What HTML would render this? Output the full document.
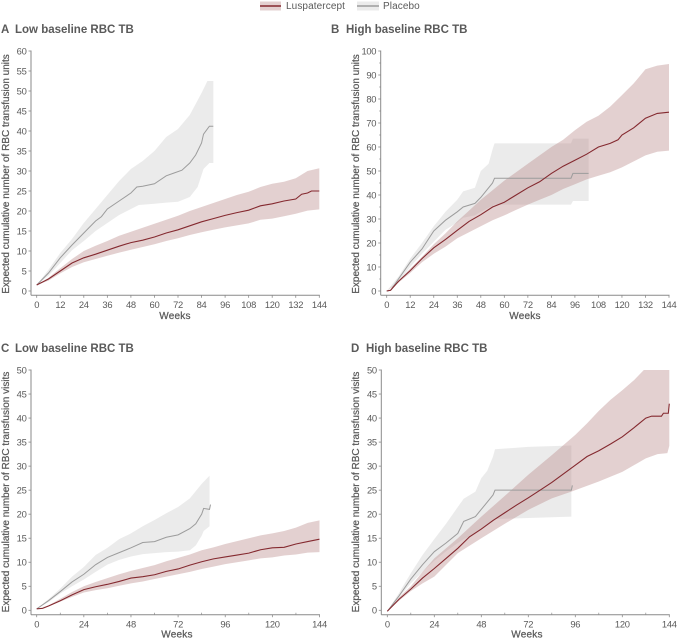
<!DOCTYPE html>
<html lang="en">
<head>
<meta charset="utf-8">
<title>Expected cumulative RBC transfusions</title>
<style>
html,body{margin:0;padding:0;background:#fff;width:677px;height:641px;overflow:hidden}
svg{display:block;font-family:"Liberation Sans",sans-serif}
</style>
</head>
<body>
<svg id="chart" width="677" height="641" viewBox="0 0 677 641" xmlns="http://www.w3.org/2000/svg"></svg>
<script>
// Panel A
const aLuspWeeks = [0,6,12,18,24,30,36,42,48,54,60,66,72,78,84,90,96,102,108,114,120,126,132,135,138,140,144];
const aLuspMean = [1.5,3,5,7,8.3,9.2,10.2,11.2,12.1,12.7,13.5,14.5,15.3,16.3,17.3,18.1,18.9,19.6,20.2,21.3,21.8,22.5,23,24.2,24.5,25,25];
const aLuspBandWeeks = [0,6,12,18,24,30,36,42,48,54,60,66,72,78,84,90,96,102,108,114,120,126,132,138,144];
const aLuspHigh = [1.5,3.3,5.7,8,10,11.3,12.5,13.8,14.8,15.8,16.8,17.8,18.8,20,21,22,23,24,24.8,26,26.8,27.3,28.2,30,30.7];
const aLuspLow = [1.5,2.6,4.4,6,7.2,8,8.8,9.6,10.3,11,11.7,12.5,13.2,14,14.7,15.3,15.9,16.4,16.9,17.8,18.1,18.7,19.3,20.1,20.4];
const aPlacWeeks = [0,6,12,18,24,30,33,36,42,48,51,54,60,66,70,74,78,81,84,85,88,90];
const aPlacMean = [1.5,4.5,8.3,11.5,14.5,17.5,18.6,20.5,22.5,24.5,26,26.2,26.8,28.8,29.5,30.2,32,34,37,39.2,41.2,41.2];
const aPlacHighWeeks = [0,6,12,18,24,30,36,42,48,54,60,66,72,78,84,87,90];
const aPlacHigh = [1.5,5.3,9.5,13,17,20.5,24,27.5,30.5,32.5,35,38.5,40.5,44,49.5,52.5,52.5];
const aPlacLowWeeks = [0,6,12,18,24,30,36,42,48,52,60,66,72,78,82,84,85,88,90];
const aPlacLow = [1.5,3.8,7,10.2,12.5,15,17,19,20.5,21.5,21.8,22.1,22.3,23.5,26,29,30.5,32,32];
// Panel B
const bLuspWeeks = [0,2,6,12,18,24,30,36,42,48,54,60,66,72,78,84,90,96,102,108,114,118,120,126,132,138,144];
const bLuspMean = [0,0.3,4,8.5,13.5,18,21.5,25.3,29,31.8,35,37,40,43,45.5,49,52,54.5,57,60,61.5,63,65,68,72,74,74.5];
const bLuspBandWeeks = [0,6,12,18,24,30,36,42,48,54,60,66,72,78,84,90,96,102,108,114,120,126,132,138,144];
const bLuspHigh = [0,4.3,9.3,14.2,19.5,24,29,33.5,38,42,46,49.5,53,56.5,60,63,67,70.5,73,76.8,81.6,86.5,92.4,93.9,94.6];
const bLuspLow = [0,3.5,7.5,12,15.5,18.5,22,24.5,27,29.5,31.5,33.8,36,38,40,42.5,44.5,46.5,48,49.5,51.5,54,56.5,58,58.5];
const bPlacWeeks = [0,2,6,12,18,24,30,36,39,45,48,51,54,55,94,95,103];
const bPlacMean = [0,0.3,5,12,17.5,25,29.5,33,35,36.5,39,42,45,47,47,49,49];
const bPlacHighWeeks = [0,6,12,18,24,30,36,39,45,48,52,54,55,94,95,103];
const bPlacHigh = [0,6,13.5,20,27,33,38,41.5,43,50,53,59,61.5,61.5,63.5,63.5];
const bPlacLowWeeks = [0,6,12,18,24,30,36,39,45,48,54,55,94,95,103];
const bPlacLow = [0,4,10,15.5,20.5,25.5,28.5,30.5,31.5,33,35.5,36,36,37.5,37.5];
// Panel C
const cLuspWeeks = [0,3,6,12,18,24,30,36,42,48,54,60,66,72,78,84,90,96,102,108,114,120,126,132,138,144];
const cLuspMean = [0.3,0.4,0.9,2,3.2,4.3,4.9,5.4,6,6.7,7,7.4,8.1,8.6,9.4,10.1,10.7,11.1,11.5,11.9,12.6,13,13.1,13.8,14.3,14.8];
const cLuspBandWeeks = [0,6,12,18,24,30,36,42,48,54,60,66,72,78,84,90,96,102,108,114,120,126,132,138,144];
const cLuspHigh = [0.3,1,2.4,3.8,5,5.9,6.7,7.5,8.2,8.8,9.4,10.2,10.9,11.6,12.5,13.1,13.8,14.4,15,15.6,16,16.5,17.2,18.2,18.7];
const cLuspLow = [0.3,0.8,1.8,2.8,3.7,4.2,4.6,5.1,5.6,6,6.5,7,7.5,8,8.6,9.1,9.6,10,10.4,10.8,11,11.4,11.6,12,12.1];
const cPlacWeeks = [0,6,12,18,24,30,36,42,48,54,60,66,72,78,81,84,85,88,88.5];
const cPlacMean = [0.3,2,3.9,5.9,7.5,9.5,11,12,13,14.1,14.3,15.2,15.7,17,18,20,21.2,21,22];
const cPlacHighWeeks = [0,6,12,18,24,30,36,42,48,54,60,66,72,78,84,88];
const cPlacHigh = [0.3,2.3,4.5,7,9,11.5,13,14.8,16,17.5,18.8,20.2,21.5,23.3,26.3,28];
const cPlacLowWeeks = [0,6,12,18,24,30,36,42,48,54,60,66,72,78,81,84,85,88];
const cPlacLow = [0.3,1.7,3.5,5,6.4,8,9.5,10.5,11.2,11.7,11.9,12.1,12.2,12.5,13.5,15.5,16.5,17.5];
// Panel D
const dLuspWeeks = [0,6,12,18,24,30,36,42,48,54,60,66,72,78,84,90,96,102,108,114,120,126,132,135,140,141,143.5,144];
const dLuspMean = [-0.2,2.3,4.4,6.7,8.7,10.8,12.9,15.3,16.9,18.7,20.3,21.9,23.4,25,26.6,28.4,30.2,32,33.2,34.6,36.1,38,40,40.4,40.4,41,41,43];
const dLuspHighWeeks = [0,6,12,18,24,36,48,60,72,84,90,96,102,108,114,120,126,131,144];
const dLuspHigh = [-0.2,2.7,5,8,10.8,15,19.5,23.8,28.2,32.3,34.4,36.5,38.9,41.5,43.8,45.8,47.9,50,50];
const dLuspLowWeeks = [0,6,12,18,24,36,48,60,72,84,94,108,120,132,138,143,144];
const dLuspLow = [-0.2,2,4,5.6,7,11.9,15,18,20.9,23.3,24.7,26.8,28.8,31.6,32.5,32.7,34.2];
const dPlacWeeks = [0,6,12,18,24,30,36,39,45,48,51,54,55,94,94.5];
const dPlacMean = [-0.2,3,6.5,9.5,12.2,14,16,18.5,19.5,21,22.5,24,25,25,26];
const dPlacHighWeeks = [0,6,12,18,24,30,36,39,45,48,51,54,55,72,94];
const dPlacHigh = [-0.2,3.6,7.7,11.5,14.8,18,21.5,23.2,24.7,27.5,29,32,33.5,34,34.3];
const dPlacLowWeeks = [0,6,12,18,24,30,36,39,45,48,54,55,72,94];
const dPlacLow = [-0.2,2.7,5.6,8,10.3,12.3,14,14.8,16,17,18.5,19,19.2,19.5];
// Tick labels
const xTicksFine = [0,12,24,36,48,60,72,84,96,108,120,132,144];
const xTicksCoarse = [0,24,48,72,96,120,144];
const xMinorTicksCoarse = [12,36,60,84,108,132];
const yTicksA = [0,5,10,15,20,25,30,35,40,45,50,55,60];
const yTicksB = [0,10,20,30,40,50,60,70,80,90,100];
const yMinorTicksB = [5,15,25,35,45,55,65,75,85,95];
const yTicksCD = [0,5,10,15,20,25,30,35,40,45,50];
const legendLabels = ["Luspatercept","Placebo"];

const NS = "http://www.w3.org/2000/svg";
const root = document.getElementById("chart");
const LUSP_LINE = "#84292f", LUSP_FILL = "#b98a8a", PLAC_LINE = "#9c9c9c", PLAC_FILL = "#d8d8d8";
const LUSP_ALPHA = 0.4, PLAC_ALPHA = 0.5;
const TEXT = "#5a5a5a", AXIS = "#8a8a8a";

function mk(tag, parent, attrs) {
  const el = document.createElementNS(NS, tag);
  for (const k in attrs) el.setAttribute(k, attrs[k]);
  parent.appendChild(el);
  return el;
}
function txt(parent, x, y, s, size, anchor, weight, spacing) {
  const el = mk("text", parent, {x:x, y:y, "font-size":size, "text-anchor":anchor||"start", fill:TEXT, "font-weight":weight||"normal", "letter-spacing":spacing||0});
  el.textContent = s;
  return el;
}
function pathOf(weeks, vals, sx, sy) {
  return weeks.map((w,i)=>(i?"L":"M")+sx(w).toFixed(2)+" "+sy(vals[i]).toFixed(2)).join("");
}
function bandOf(hiW, hi, loW, lo, sx, sy) {
  const top = pathOf(hiW, hi, sx, sy);
  const rw = loW.slice().reverse(), rv = lo.slice().reverse();
  const bottom = rw.map((w,i)=>"L"+sx(w).toFixed(2)+" "+sy(rv[i]).toFixed(2)).join("");
  return top + bottom + "Z";
}

function drawPanel(p) {
  const sx = w => p.x0 + (w/144)*(p.x1-p.x0);
  const sy = v => p.y0 + (v/p.yMax)*(p.y1-p.y0);
  const g = mk("g", root, {});
  
  

  const letter = txt(g, p.letterX, p.titleY, p.letter, 11.5, "start", "bold", 0);
  
  
  const title = txt(g, p.titleX, p.titleY, p.title, 11.5, "start", "bold", 0);
  
  

  const placBand = mk("path", g, {d:bandOf(p.plac.highW,p.plac.high,p.plac.lowW,p.plac.low,sx,sy), fill:PLAC_FILL, "fill-opacity":PLAC_ALPHA});
  
  
  const luspBand = mk("path", g, {d:bandOf(p.lusp.highW,p.lusp.high,p.lusp.lowW,p.lusp.low,sx,sy), fill:LUSP_FILL, "fill-opacity":LUSP_ALPHA});
  
  
  const placLine = mk("path", g, {d:pathOf(p.plac.w,p.plac.mean,sx,sy), fill:"none", stroke:PLAC_LINE, "stroke-width":1});
  
  
  const luspLine = mk("path", g, {d:pathOf(p.lusp.w,p.lusp.mean,sx,sy), fill:"none", stroke:LUSP_LINE, "stroke-width":1.1});
  
  

  const yAxis = mk("line", g, {x1:p.axisX, x2:p.axisX, y1:sy(p.yMax)-0.5, y2:p.axisY, stroke:AXIS, "stroke-width":1});
  
  
  const xAxis = mk("line", g, {x1:p.axisX, x2:sx(144)+0.5, y1:p.axisY, y2:p.axisY, stroke:AXIS, "stroke-width":1});
  
  

  p.yTicks.forEach(v => {
    const t = mk("line", g, {x1:p.axisX-2.5, x2:p.axisX, y1:sy(v), y2:sy(v), stroke:AXIS, "stroke-width":0.8});
    
    
    const l = txt(g, p.axisX-4.5, sy(v)+3.4, String(v), 9.4, "end", "normal", -0.3);
    
    
  });
  (p.yMinor||[]).forEach(v => {
    const t = mk("line", g, {x1:p.axisX-1.5, x2:p.axisX, y1:sy(v), y2:sy(v), stroke:AXIS, "stroke-width":0.7});
    
    
  });
  p.xTicks.forEach(w => {
    const t = mk("line", g, {x1:sx(w), x2:sx(w), y1:p.axisY, y2:p.axisY+2.5, stroke:AXIS, "stroke-width":0.8});
    
    
    const l = txt(g, sx(w), p.axisY+12.6, String(w), 9.4, "middle", "normal", -0.3);
    
    
  });
  (p.xMinor||[]).forEach(w => {
    const t = mk("line", g, {x1:sx(w), x2:sx(w), y1:p.axisY-2, y2:p.axisY, stroke:AXIS, "stroke-width":0.7});
    
    
  });
  const xt = txt(g, p.weeksX, p.weeksY, "Weeks", 10, "middle", "normal", 0.2);
  xt.setAttribute("stroke", TEXT);
  xt.setAttribute("stroke-width", "0.25");
  
  
  const yt = txt(g, 0, 0, p.yTitle, 10, "middle", "normal", 0);
  yt.setAttribute("stroke", TEXT);
  yt.setAttribute("stroke-width", "0.25");
  yt.setAttribute("transform", "translate("+p.yTitleX+" "+p.yTitleY+") rotate(-90)");
  
  
}

drawPanel({name:"panel-a", letter:"A", title:"Low baseline RBC TB", letterX:1, titleX:15, titleY:33,
  x0:36.7, x1:319.3, y0:291, y1:51, yMax:60, axisX:31, axisY:295.3, weeksX:175, weeksY:319,
  yTitleX:9, yTitleY:174, yTitle:"Expected cumulative number of RBC transfusion units",
  yTicks:yTicksA, xTicks:xTicksFine,
  lusp:{w:aLuspWeeks,mean:aLuspMean,highW:aLuspBandWeeks,high:aLuspHigh,lowW:aLuspBandWeeks,low:aLuspLow},
  plac:{w:aPlacWeeks,mean:aPlacMean,highW:aPlacHighWeeks,high:aPlacHigh,lowW:aPlacLowWeeks,low:aPlacLow}});
drawPanel({name:"panel-b", letter:"B", title:"High baseline RBC TB", letterX:331, titleX:346, titleY:33,
  x0:386.7, x1:669, y0:291, y1:51, yMax:100, axisX:380.7, axisY:295.3, weeksX:525, weeksY:319,
  yTitleX:359, yTitleY:174, yTitle:"Expected cumulative number of RBC transfusion units",
  yTicks:yTicksB, yMinor:yMinorTicksB, xTicks:xTicksFine,
  lusp:{w:bLuspWeeks,mean:bLuspMean,highW:bLuspBandWeeks,high:bLuspHigh,lowW:bLuspBandWeeks,low:bLuspLow},
  plac:{w:bPlacWeeks,mean:bPlacMean,highW:bPlacHighWeeks,high:bPlacHigh,lowW:bPlacLowWeeks,low:bPlacLow}});
drawPanel({name:"panel-c", letter:"C", title:"Low baseline RBC TB", letterX:1, titleX:15, titleY:352,
  x0:36.7, x1:319.5, y0:610.3, y1:370, yMax:50, axisX:31, axisY:614.7, weeksX:177, weeksY:637.5,
  yTitleX:9, yTitleY:492, yTitle:"Expected cumulative number of RBC transfusion visits",
  yTicks:yTicksCD, xTicks:xTicksCoarse, xMinor:xMinorTicksCoarse,
  lusp:{w:cLuspWeeks,mean:cLuspMean,highW:cLuspBandWeeks,high:cLuspHigh,lowW:cLuspBandWeeks,low:cLuspLow},
  plac:{w:cPlacWeeks,mean:cPlacMean,highW:cPlacHighWeeks,high:cPlacHigh,lowW:cPlacLowWeeks,low:cPlacLow}});
drawPanel({name:"panel-d", letter:"D", title:"High baseline RBC TB", letterX:351, titleX:366, titleY:352,
  x0:387.3, x1:669.3, y0:610.3, y1:370, yMax:50, axisX:381.3, axisY:614.7, weeksX:527, weeksY:637.5,
  yTitleX:359, yTitleY:492, yTitle:"Expected cumulative number of RBC transfusion visits",
  yTicks:yTicksCD, xTicks:xTicksCoarse, xMinor:xMinorTicksCoarse,
  lusp:{w:dLuspWeeks,mean:dLuspMean,highW:dLuspHighWeeks,high:dLuspHigh,lowW:dLuspLowWeeks,low:dLuspLow},
  plac:{w:dPlacWeeks,mean:dPlacMean,highW:dPlacHighWeeks,high:dPlacHigh,lowW:dPlacLowWeeks,low:dPlacLow}});

// Legend
const legend = mk("g", root, {});


const lspBox = mk("rect", legend, {x:260, y:1.5, width:21, height:9, fill:LUSP_FILL, "fill-opacity":LUSP_ALPHA});


const lspLine = mk("line", legend, {x1:260, x2:281, y1:6, y2:6, stroke:LUSP_LINE, "stroke-width":1.4});


const lspText = txt(legend, 286, 9, legendLabels[0], 10, "start", "normal", 0.1);


const plcBox = mk("rect", legend, {x:357, y:1.5, width:22, height:9, fill:PLAC_FILL, "fill-opacity":PLAC_ALPHA});


const plcLine = mk("line", legend, {x1:357, x2:379, y1:6, y2:6, stroke:PLAC_LINE, "stroke-width":1.4});


const plcText = txt(legend, 383, 9, legendLabels[1], 10, "start", "normal", 0.1);


</script>
</body>
</html>
